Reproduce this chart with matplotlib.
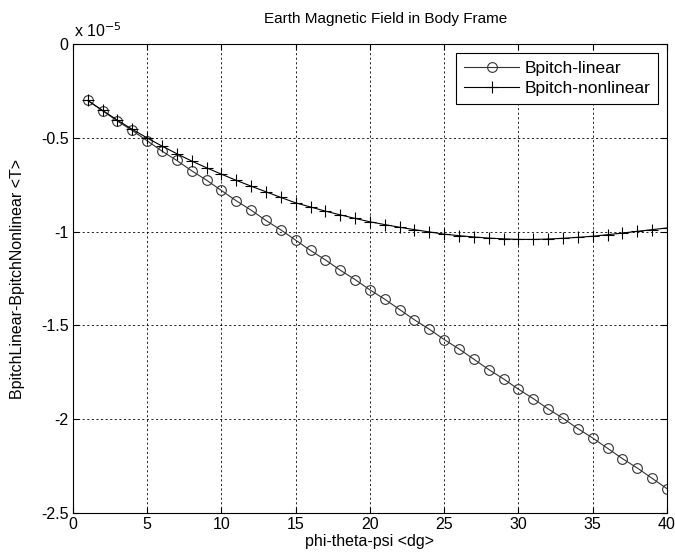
import matplotlib
matplotlib.use("Agg")
import matplotlib.pyplot as plt

# angle (deg)
angle = list(range(1, 41))

# field values, in units of 1e-5 T
b_linear = [
    -0.300, -0.355, -0.410, -0.460, -0.515, -0.570, -0.620, -0.675, -0.725, -0.780,
    -0.835, -0.885, -0.940, -0.990, -1.045, -1.100, -1.150, -1.205, -1.255, -1.310,
    -1.360, -1.415, -1.470, -1.520, -1.575, -1.625, -1.680, -1.735, -1.785, -1.840,
    -1.890, -1.945, -1.995, -2.050, -2.100, -2.155, -2.210, -2.260, -2.315, -2.370,
]
b_nonlinear = [
    -0.300, -0.353, -0.405, -0.454, -0.500, -0.543, -0.584, -0.623, -0.659, -0.693,
    -0.726, -0.757, -0.787, -0.817, -0.846, -0.868, -0.890, -0.910, -0.929, -0.947,
    -0.962, -0.976, -0.989, -1.001, -1.013, -1.021, -1.028, -1.034, -1.038, -1.041,
    -1.041, -1.039, -1.035, -1.030, -1.024, -1.016, -1.007, -0.998, -0.989, -0.980,
]

xticks = [0, 5, 10, 15, 20, 25, 30, 35, 40]
yticks = [0, -0.5, -1, -1.5, -2, -2.5]
ytick_labels = ["0", "-0.5", "-1", "-1.5", "-2", "-2.5"]

plt.rcParams["font.family"] = ["Liberation Sans", "DejaVu Sans"]
plt.rcParams["font.size"] = 11.5

fig = plt.figure(figsize=(6.75, 5.6), dpi=100)
ax = fig.add_axes([0.108, 0.084, 0.880, 0.837])

ax.plot(angle, b_linear, color="#333333", lw=0.8, marker="o",
        markersize=7, markerfacecolor="none", markeredgecolor="#333333",
        markeredgewidth=0.8, label="Bpitch-linear")
ax.plot(angle, b_nonlinear, color="black", lw=0.8, marker="+",
        markersize=8, markeredgewidth=0.8, label="Bpitch-nonlinear")

ax.set_xlim(0, 40)
ax.set_ylim(-2.5, 0)
ax.set_xticks(xticks)
ax.set_yticks(yticks)
ax.set_yticklabels(ytick_labels)
ax.tick_params(direction="in", top=True, right=True, length=4, width=0.8,
               labelsize=11.5, pad=3)
ax.grid(True, color="black", linestyle=(0, (2.5, 3)), linewidth=0.6)
for s in ax.spines.values():
    s.set_linewidth(0.8)

ax.set_title("Earth Magnetic Field in Body Frame", fontsize=11, pad=15, x=0.527)
ax.set_xlabel("phi-theta-psi <dg>", fontsize=11.5, labelpad=1)
ax.set_ylabel("BpitchLinear-BpitchNonlinear <T>", fontsize=11.5)
ax.yaxis.set_label_coords(-0.080, 0.5)
ax.text(0.002, 1.008, "x 10$^{-5}$", transform=ax.transAxes, fontsize=11.5,
        ha="left", va="bottom")

leg = ax.legend(loc="upper right", fancybox=False, framealpha=1,
                edgecolor="black", fontsize=12.5, handlelength=3.2,
                handletextpad=0.3, borderaxespad=0.5, borderpad=0.45,
                labelspacing=0.3)
leg.get_frame().set_linewidth(0.8)

fig.savefig("out.png", dpi=100)
